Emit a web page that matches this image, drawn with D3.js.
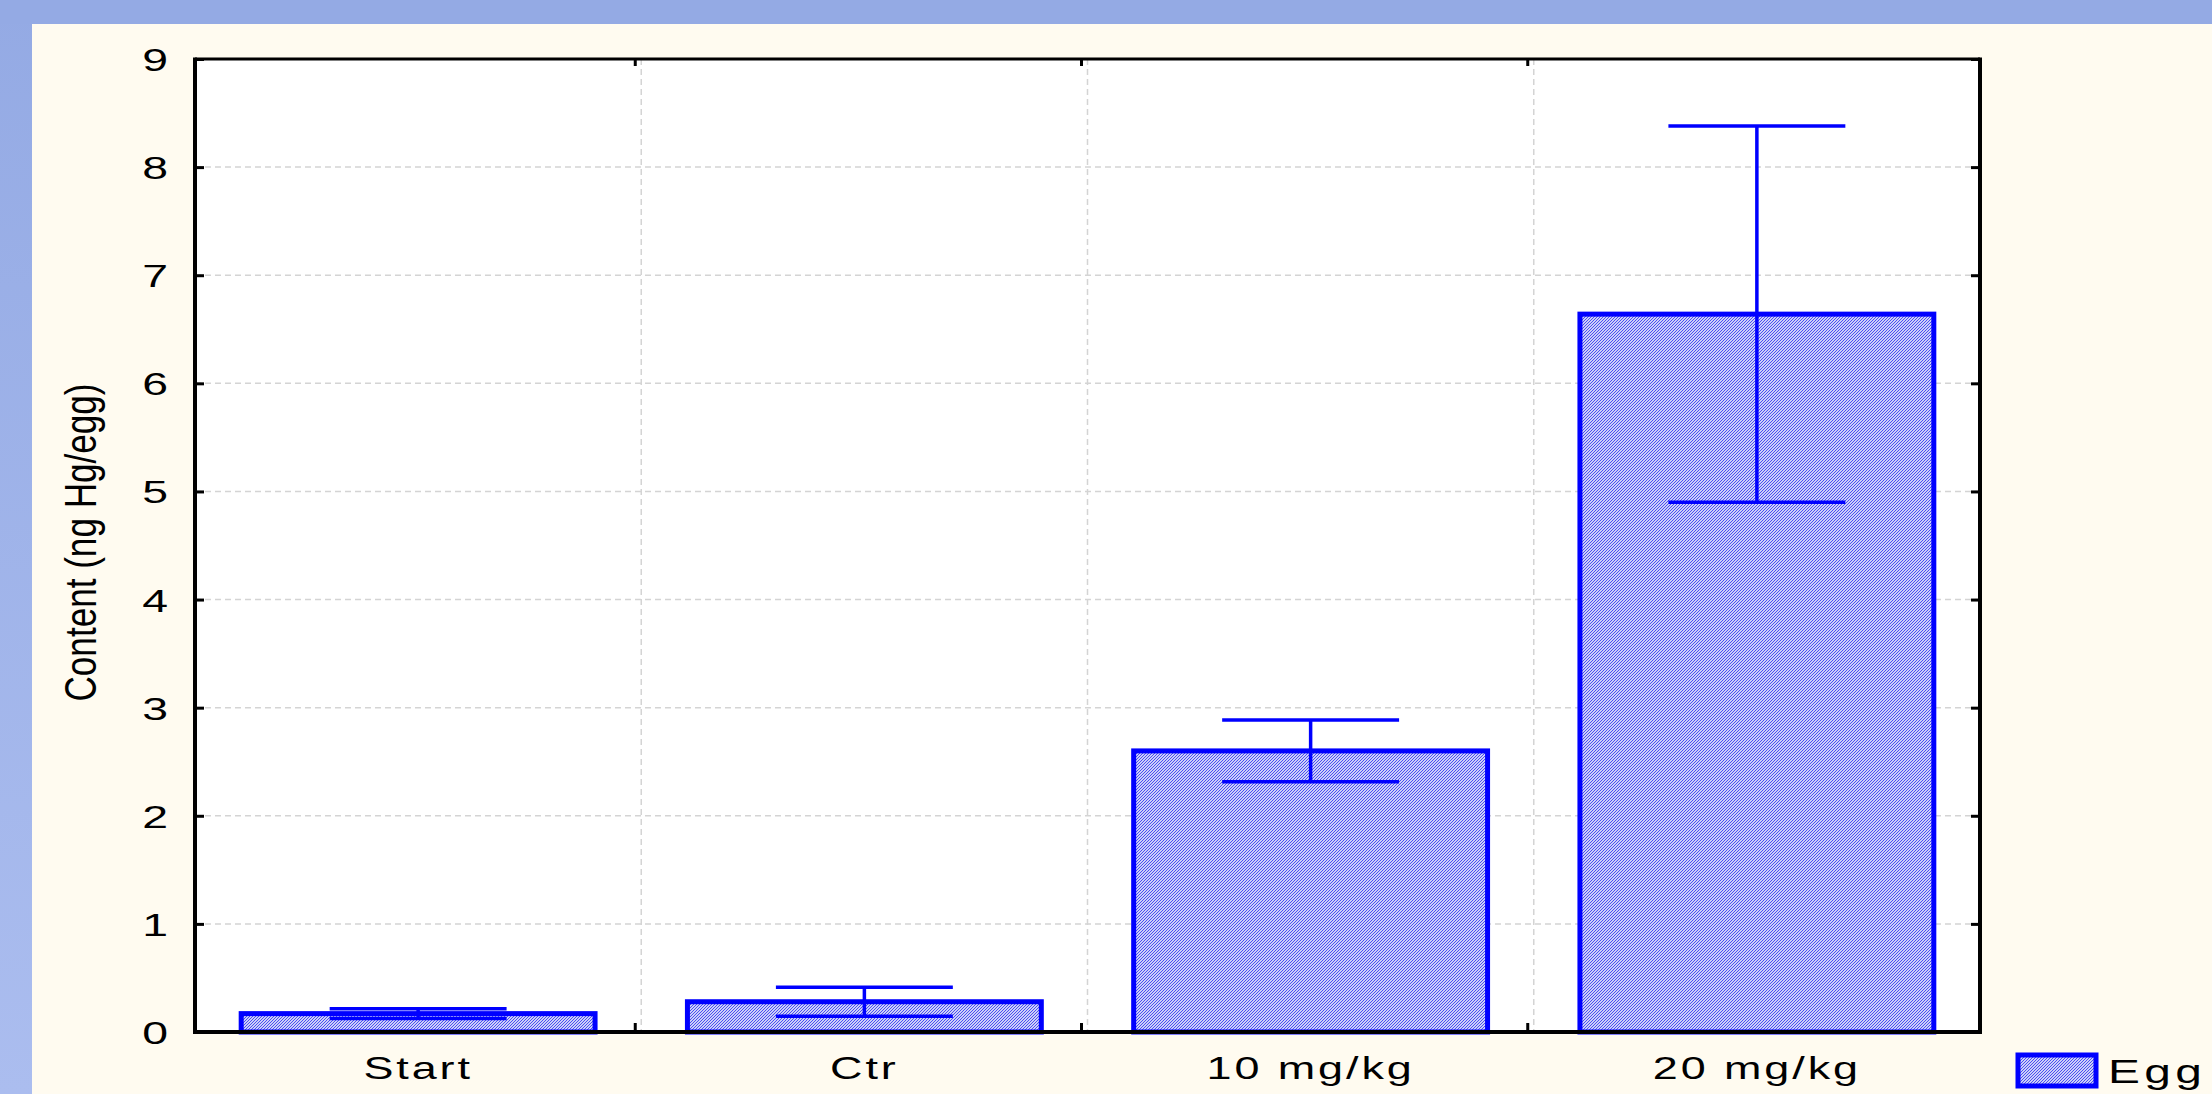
<!DOCTYPE html>
<html>
<head>
<meta charset="utf-8">
<script src="https://cdn.jsdelivr.net/npm/d3@7"></script>
<style>
  html, body { margin: 0; padding: 0; background: #fffbf0; }
  svg { display: block; }
  text { font-family: "Liberation Sans", Arial, sans-serif; fill: #000; }
</style>
</head>
<body>
<svg id="chart" width="2212" height="1094"></svg>
<script>
// ---- data ----
const categories = ["Start", "Ctr", "10 mg/kg", "20 mg/kg"];
const means = [0.17, 0.28, 2.60, 6.64];
const errors = [0.045, 0.135, 0.285, 1.74];
const yTicks = [0, 1, 2, 3, 4, 5, 6, 7, 8, 9];
const seriesName = "Egg";
const yLabel = "Content (ng Hg/egg)";

const W = 2212, H = 1094;
const M = { left: 195, right: 1980, top: 59, bottom: 1032 };
const SX = 1.45; // horizontal stretch of the original text

const svg = d3.select("#chart");
const defs = svg.append("defs");

// background frame
const grad = defs.append("linearGradient").attr("id", "leftBand")
  .attr("x1", 0).attr("y1", 0).attr("x2", 0).attr("y2", 1);
grad.append("stop").attr("offset", "0%").attr("stop-color", "#94aae4");
grad.append("stop").attr("offset", "100%").attr("stop-color", "#abbdef");
svg.append("rect").attr("x", 0).attr("y", 0).attr("width", W).attr("height", H).attr("fill", "#fffbf0");
svg.append("rect").attr("x", 0).attr("y", 0).attr("width", 32).attr("height", H).attr("fill", "url(#leftBand)");
svg.append("rect").attr("x", 0).attr("y", 0).attr("width", W).attr("height", 24).attr("fill", "#94aae4");

// hatch pattern
const pat = defs.append("pattern").attr("id", "hatch")
  .attr("patternUnits", "userSpaceOnUse").attr("width", 3).attr("height", 3);
pat.append("rect").attr("width", 3).attr("height", 3).attr("fill", "#ccd0f8");
pat.append("path").attr("d", "M-1,1 l2,-2 M0,3 l3,-3 M2,4 l2,-2")
  .attr("stroke", "#4646f0").attr("stroke-width", 0.95);

// scales
const x = d3.scaleBand().domain(categories).range([M.left, M.right])
  .paddingInner(0.207).paddingOuter(0.1035);
const y = d3.scaleLinear().domain([0, 9]).range([M.bottom, M.top]);

// plot background
svg.append("rect").attr("x", M.left).attr("y", M.top)
  .attr("width", M.right - M.left).attr("height", M.bottom - M.top).attr("fill", "#ffffff");

// category boundaries
const step = x.step();
const boundaries = categories.slice(1).map(c => x(c) - (step - x.bandwidth()) / 2);

// grid
const grid = svg.append("g");
grid.selectAll("line.h").data(yTicks.slice(1, -1)).join("line")
  .attr("x1", M.left).attr("x2", M.right)
  .attr("y1", d => y(d)).attr("y2", d => y(d))
  .attr("stroke", "#d4d4d4").attr("stroke-width", 1.5).attr("stroke-dasharray", "6,4");
grid.selectAll("line.v").data(boundaries).join("line")
  .attr("x1", d => d).attr("x2", d => d)
  .attr("y1", M.top).attr("y2", M.bottom)
  .attr("stroke", "#d4d4d4").attr("stroke-width", 1.5).attr("stroke-dasharray", "6,4");

// bars
const data = categories.map((c, i) => ({ c, m: means[i], e: errors[i] }));
svg.append("g").selectAll("rect").data(data).join("rect")
  .attr("x", d => x(d.c)).attr("width", x.bandwidth())
  .attr("y", d => y(d.m)).attr("height", d => y(0) - y(d.m))
  .attr("fill", "url(#hatch)").attr("stroke", "#0000ff").attr("stroke-width", 5);

// error bars
const eb = svg.append("g").attr("stroke", "#0000ff").attr("stroke-width", 3.5).attr("fill", "none");
data.forEach(d => {
  const cx = x(d.c) + x.bandwidth() / 2;
  const hw = x.bandwidth() / 4;
  eb.append("line").attr("x1", cx).attr("x2", cx).attr("y1", y(d.m + d.e)).attr("y2", y(d.m - d.e));
  eb.append("line").attr("x1", cx - hw).attr("x2", cx + hw).attr("y1", y(d.m + d.e)).attr("y2", y(d.m + d.e));
  eb.append("line").attr("x1", cx - hw).attr("x2", cx + hw).attr("y1", y(d.m - d.e)).attr("y2", y(d.m - d.e));
});

// axes
const yAxis = d3.axisLeft(y).tickValues(yTicks).tickSize(-9).tickPadding(27).tickFormat(d3.format("d"));
const gy = svg.append("g").attr("transform", `translate(${M.left},0)`).call(yAxis)
  .attr("font-size", 32).attr("font-family", "Liberation Sans, Arial, sans-serif");
gy.select(".domain").remove();
gy.selectAll(".tick line").attr("stroke", "#000").attr("stroke-width", 3);
gy.selectAll(".tick text")
  .attr("x", -27 / SX)
  .attr("transform", `scale(${SX},1)`)
  .style("font-size", "32px").attr("dy", "0.36em");

const yAxisR = d3.axisRight(y).tickValues(yTicks).tickSize(-9).tickFormat("");
const gyr = svg.append("g").attr("transform", `translate(${M.right},0)`).call(yAxisR);
gyr.select(".domain").remove();
gyr.selectAll(".tick line").attr("stroke", "#000").attr("stroke-width", 3);

const xAxis = d3.axisBottom(x).tickSize(0).tickPadding(25);
const gx = svg.append("g").attr("transform", `translate(0,${M.bottom})`).call(xAxis)
  .attr("font-size", 31).attr("font-family", "Liberation Sans, Arial, sans-serif");
gx.select(".domain").remove();
gx.selectAll(".tick text")
  .attr("transform", `scale(${SX},1)`)
  .style("font-size", "31px").style("letter-spacing", "2px").attr("dy", "0.71em");

// boundary ticks (bottom and top, inward)
svg.append("g").selectAll("line").data(boundaries).join("line")
  .attr("x1", d => d - 6).attr("x2", d => d - 6)
  .attr("y1", M.bottom).attr("y2", M.bottom - 9)
  .attr("stroke", "#000").attr("stroke-width", 3);
svg.append("g").selectAll("line").data(boundaries).join("line")
  .attr("x1", d => d - 6).attr("x2", d => d - 6)
  .attr("y1", M.top).attr("y2", M.top + 7)
  .attr("stroke", "#000").attr("stroke-width", 3);

// frame
const fr = svg.append("g").attr("stroke", "#000").attr("fill", "none");
fr.append("line").attr("x1", M.left).attr("x2", M.right).attr("y1", M.top).attr("y2", M.top).attr("stroke-width", 3);
fr.append("line").attr("x1", M.left).attr("x2", M.left).attr("y1", M.top - 1.5).attr("y2", M.bottom + 2).attr("stroke-width", 4);
fr.append("line").attr("x1", M.right).attr("x2", M.right).attr("y1", M.top - 1.5).attr("y2", M.bottom + 2).attr("stroke-width", 4);
fr.append("line").attr("x1", M.left - 2).attr("x2", M.right + 2).attr("y1", M.bottom).attr("y2", M.bottom).attr("stroke-width", 4);

// y label (rotated; glyph height stretched like the original)
svg.append("text")
  .attr("transform", `translate(96,${(y(0) + y(9)) / 2 - 3}) scale(1.32,1) rotate(-90)`)
  .attr("text-anchor", "middle")
  .attr("textLength", 318).attr("lengthAdjust", "spacingAndGlyphs")
  .style("font-size", "34px")
  .text(yLabel);

// legend
svg.append("rect").attr("x", 2018).attr("y", 1055).attr("width", 78).attr("height", 31)
  .attr("fill", "url(#hatch)").attr("stroke", "#0000ff").attr("stroke-width", 5);
svg.append("text").attr("x", 2108 / SX).attr("y", 1083)
  .attr("transform", `scale(${SX},1)`)
  .style("font-size", "33px").style("letter-spacing", "3px").text(seriesName);
</script>
</body>
</html>
